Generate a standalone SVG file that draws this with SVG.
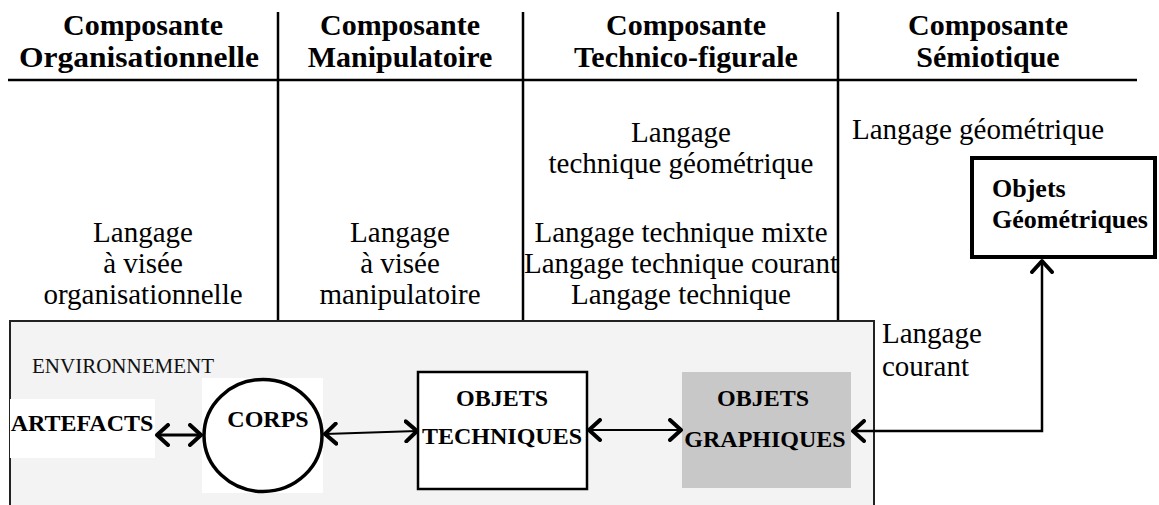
<svg xmlns="http://www.w3.org/2000/svg" width="1159" height="505" viewBox="0 0 1159 505">
<style>
.hd{font-family:"Liberation Serif","Times New Roman",serif;font-weight:bold;font-size:30px;fill:#000;text-anchor:middle}
.tx{font-family:"Liberation Serif","Times New Roman",serif;font-size:29px;fill:#000;text-anchor:middle}
.txl{font-family:"Liberation Serif","Times New Roman",serif;font-size:29px;fill:#000}
.nb{font-family:"Liberation Serif","Times New Roman",serif;font-weight:bold;font-size:24px;fill:#000;text-anchor:middle}
.geo{font-family:"Liberation Serif","Times New Roman",serif;font-weight:bold;font-size:26px;fill:#000}
.rule{stroke:#000;stroke-width:2.5;fill:none}
.con{stroke:#000;fill:none;marker-start:url(#ah);marker-end:url(#ah)}
</style>
<defs>
<marker id="ah" viewBox="0 0 16 24" refX="13" refY="12" markerWidth="16" markerHeight="24" markerUnits="userSpaceOnUse" orient="auto-start-reverse">
<path d="M2,2 L13,12 L2,22" fill="none" stroke="#000" stroke-width="4" stroke-linecap="round" stroke-linejoin="round"/>
</marker>
</defs>
<rect width="1159" height="505" fill="#fff"/>

<g id="table">
<line class="rule" x1="8" y1="80" x2="1137" y2="80" stroke-width="3"/>
<line class="rule" x1="278" y1="12" x2="278" y2="321"/>
<line class="rule" x1="523" y1="12" x2="523" y2="321"/>
<line class="rule" x1="838" y1="12" x2="838" y2="321"/>
</g>

<g id="headers">
<text class="hd" x="143" y="35">Composante</text>
<text class="hd" x="139" y="67" textLength="240" lengthAdjust="spacingAndGlyphs">Organisationnelle</text>
<text class="hd" x="400" y="35">Composante</text>
<text class="hd" x="400" y="67">Manipulatoire</text>
<text class="hd" x="686" y="35">Composante</text>
<text class="hd" x="686" y="67">Technico-figurale</text>
<text class="hd" x="988" y="35">Composante</text>
<text class="hd" x="988" y="67">Sémiotique</text>
</g>

<g id="col-texts">
<text class="tx" x="143" y="242">Langage</text>
<text class="tx" x="143" y="273">à visée</text>
<text class="tx" x="143" y="304">organisationnelle</text>
<text class="tx" x="400" y="242">Langage</text>
<text class="tx" x="400" y="273">à visée</text>
<text class="tx" x="400" y="304">manipulatoire</text>
<text class="tx" x="681" y="142">Langage</text>
<text class="tx" x="681" y="173">technique géométrique</text>
<text class="tx" x="681" y="242">Langage technique mixte</text>
<text class="tx" x="681" y="273">Langage technique courant</text>
<text class="tx" x="681" y="304">Langage technique</text>
<text class="txl" x="852" y="139">Langage géométrique</text>
</g>

<g id="environnement">
<rect x="10" y="321" width="864" height="200" fill="#f3f3f3" stroke="#222" stroke-width="2"/>
<text x="32" y="373" font-family="Liberation Serif, Times New Roman, serif" font-size="21" fill="#111">ENVIRONNEMENT</text>
</g>

<g id="langage-courant">
<text class="txl" x="882" y="343">Langage</text>
<text class="txl" x="882" y="376">courant</text>
</g>

<g id="artefacts">
<rect x="10" y="399" width="145" height="59" fill="#fff"/>
<text x="82" y="431" class="nb" font-size="21">ARTEFACTS</text>
</g>

<g id="corps">
<rect x="202" y="378" width="121" height="115" fill="#fff"/>
<ellipse cx="263" cy="435.5" rx="59" ry="56" fill="#fff" stroke="#000" stroke-width="3.5"/>
<text x="268" y="427" class="nb" font-size="26">CORPS</text>
</g>

<g id="objets-techniques">
<rect x="418" y="372" width="169" height="117" fill="#fff" stroke="#000" stroke-width="2.5"/>
<text x="502" y="406" class="nb">OBJETS</text>
<text x="502" y="444" class="nb">TECHNIQUES</text>
</g>

<g id="objets-graphiques">
<rect x="682" y="372" width="169" height="116" fill="#c8c8c8"/>
<text x="763" y="406" class="nb">OBJETS</text>
<text x="765" y="447" class="nb">GRAPHIQUES</text>
</g>

<g id="objets-geometriques">
<rect x="972" y="158" width="183" height="99" fill="#fff" stroke="#000" stroke-width="4"/>
<text x="992" y="197" class="geo">Objets</text>
<text x="992" y="228" class="geo">Géométriques</text>
</g>

<g id="connectors">
<line class="con" x1="157" y1="435" x2="201" y2="435" stroke-width="3"/>
<line class="con" x1="325" y1="434" x2="417" y2="431" stroke-width="2"/>
<line class="con" x1="589" y1="430" x2="681" y2="430" stroke-width="2"/>
<polyline class="con" points="1042,261 1042,431 853,431" stroke-width="2.5"/>
</g>
</svg>
